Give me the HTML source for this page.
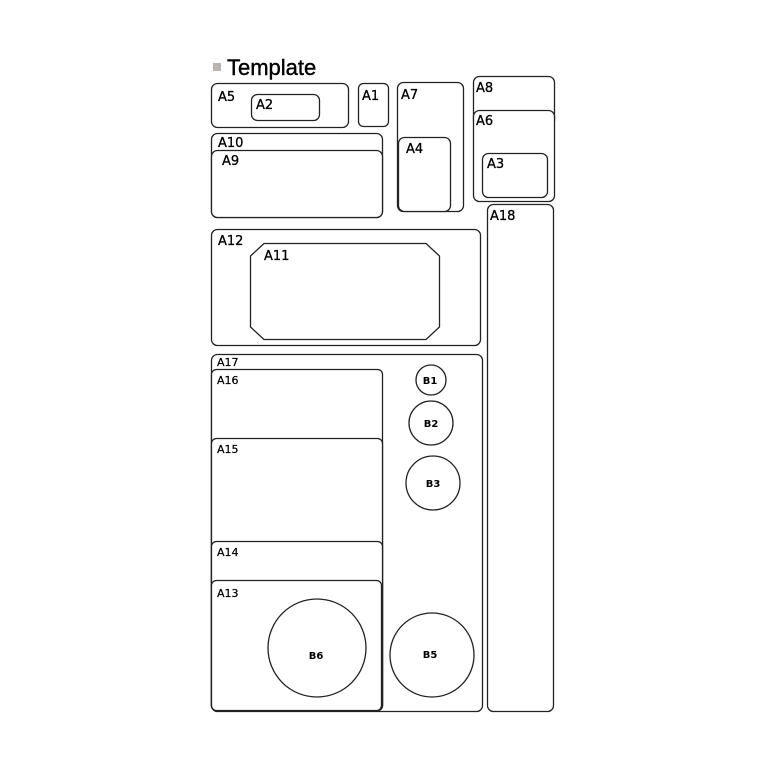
<!DOCTYPE html>
<html><head><meta charset="utf-8"><style>
html,body{margin:0;padding:0;background:#fff;}
svg{display:block;}
text{font-family:"DejaVu Sans","Liberation Sans",sans-serif;fill:#000;}
</style></head><body>
<svg width="768" height="768" viewBox="0 0 768 768" xmlns="http://www.w3.org/2000/svg">
<rect width="768" height="768" fill="#fff"/>
<rect x="213" y="63" width="8" height="8" fill="#b8b4b2"/>
<text x="227" y="75" style="font-family:'Liberation Sans',sans-serif;font-size:22px;font-weight:500;stroke:#000;stroke-width:0.4">Template</text>
<g fill="#fff" stroke="#222" stroke-width="1.3">
<rect x="211.5" y="83.5" width="137" height="44" rx="6"/>
<rect x="251.5" y="94.5" width="68" height="26" rx="6"/>
<rect x="358.5" y="83.5" width="30" height="43" rx="5"/>
<rect x="397.5" y="82.5" width="66" height="129" rx="6"/>
<rect x="398.5" y="137.5" width="52" height="74" rx="6"/>
<rect x="473.5" y="76.5" width="81" height="50" rx="6"/>
<rect x="473.5" y="110.5" width="81" height="91" rx="6"/>
<rect x="482.5" y="153.5" width="65" height="44" rx="6"/>
<rect x="487.5" y="204.5" width="66" height="507" rx="6"/>
<rect x="211.5" y="133.5" width="171" height="84" rx="6"/>
<rect x="211.5" y="150.5" width="171" height="67" rx="6"/>
<rect x="211.5" y="229.5" width="269" height="116" rx="6"/>
<polygon points="264,243.5 426,243.5 439.5,256 439.5,327 426,339.5 264,339.5 250.5,327 250.5,256"/>
<rect x="211.5" y="354.5" width="271" height="357" rx="6"/>
<rect x="211.5" y="369.5" width="171" height="341" rx="5"/>
<rect x="211.5" y="438.5" width="171" height="272" rx="5"/>
<rect x="211.5" y="541.5" width="171" height="169" rx="5"/>
<rect x="211.5" y="580.5" width="170" height="130" rx="5"/>
<circle cx="431" cy="380" r="15"/>
<circle cx="431" cy="423" r="22"/>
<circle cx="433" cy="483" r="27"/>
<circle cx="432" cy="655" r="42"/>
<circle cx="317" cy="648" r="49"/>
</g>
<g style="font-size:13px;stroke:#000;stroke-width:0.3">
<text x="218" y="101">A5</text>
<text x="256" y="109">A2</text>
<text x="362" y="100">A1</text>
<text x="401" y="99">A7</text>
<text x="406" y="153">A4</text>
<text x="476" y="92">A8</text>
<text x="476" y="125">A6</text>
<text x="487" y="168">A3</text>
<text x="490" y="220">A18</text>
<text x="218" y="147">A10</text>
<text x="222" y="165">A9</text>
<text x="218" y="245">A12</text>
<text x="264" y="260">A11</text>
</g>
<g style="font-size:11px;stroke:#000;stroke-width:0.25">
<text x="217" y="366">A17</text>
<text x="217" y="384">A16</text>
<text x="217" y="453">A15</text>
<text x="217" y="556">A14</text>
<text x="217" y="597">A13</text>
</g>
<g style="font-size:10px;font-weight:bold" text-anchor="middle">
<text x="430" y="384">B1</text>
<text x="431" y="427">B2</text>
<text x="433" y="487">B3</text>
<text x="430" y="658">B5</text>
<text x="316" y="659">B6</text>
</g>
</svg>
</body></html>
